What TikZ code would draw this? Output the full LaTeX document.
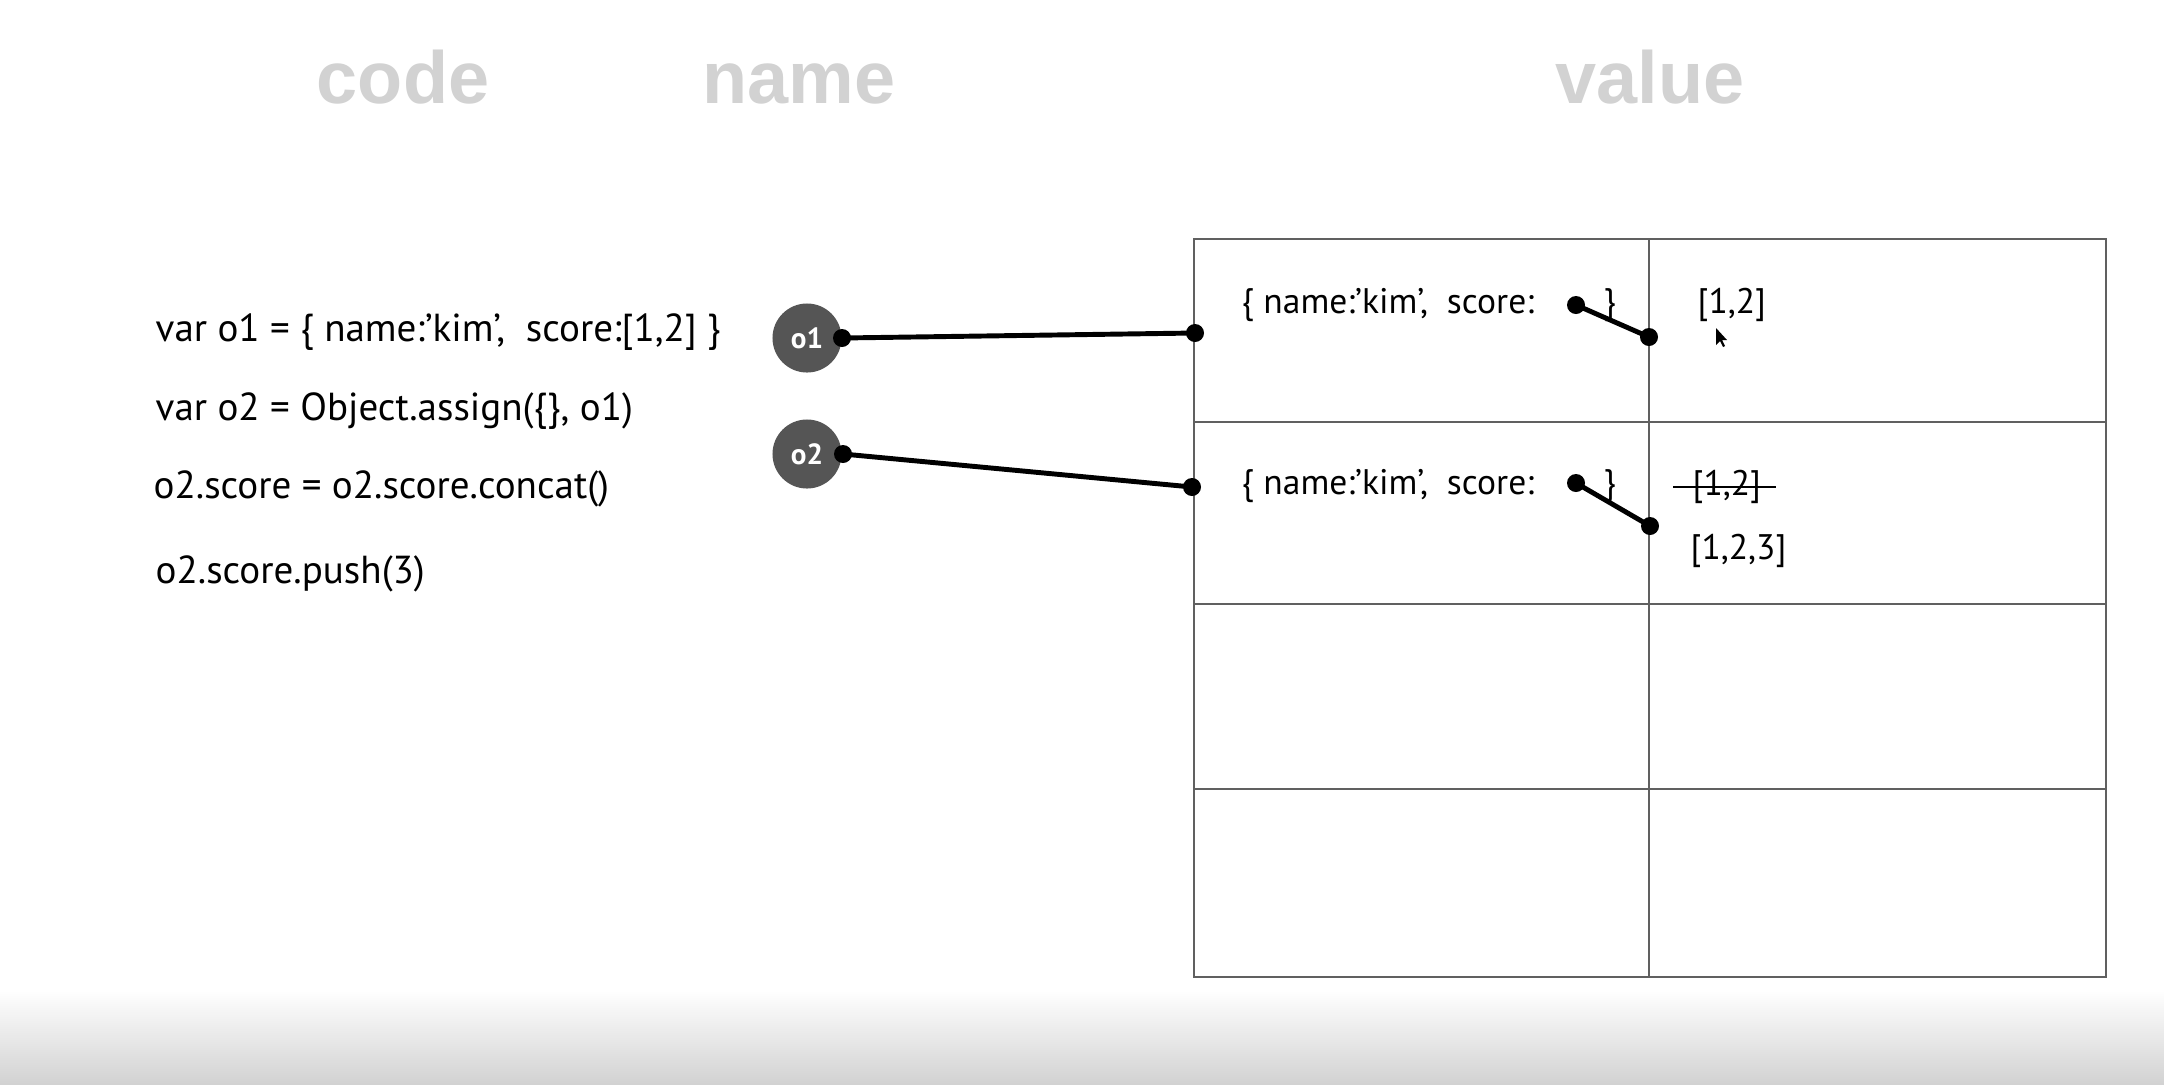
\documentclass[tikz,border=0pt]{standalone}
\usepackage{fontspec}
\setmainfont{PT Sans}
\newfontfamily\titlefont{Liberation Sans}
\definecolor{titlegray}{HTML}{D2D2D2}
\definecolor{circgray}{HTML}{555555}
\definecolor{gridgray}{HTML}{606060}
\begin{document}
\begin{tikzpicture}[x=0.01cm,y=-0.01cm,
  titletxt/.style={anchor=base, font=\titlefont\bfseries\fontsize{21}{25}\selectfont, text=titlegray, inner sep=0},
  codetxt/.style={anchor=west, font=\fontsize{11.1}{13}\selectfont, inner sep=0},
  celltxt/.style={anchor=west, font=\fontsize{10.1}{12}\selectfont, inner sep=0},
  namecirc/.style={circle, fill=circgray, minimum size=0.69cm, inner sep=0, text=white, font=\bfseries\fontsize{8.3}{10}\selectfont},
  link/.style={line width=1.4pt, black},
  dotmark/.style={fill=black},
  grid/.style={gridgray, line width=0.45pt}]
\useasboundingbox (0,0) rectangle (2164,1084);
\fill[white] (0,0) rectangle (2164,1084);
\shade[top color=white, bottom color=titlegray] (0,990) rectangle (2164,1084);

% titles
\node[titletxt] (tcode) at (403,103) {code};
\node[titletxt] (tname) at (799,103) {name};
\node[titletxt] (tvalue) at (1650,103) {value};

% code lines
\node[codetxt] (c1) at (155,332) {var o1 = \{ name:'kim',\ \ score:[1,2] \}};
\node[codetxt] (c2) at (155,411) {var o2 = Object.assign(\{\}, o1)};
\node[codetxt] (c3) at (153,489) {o2.score = o2.score.concat()};
\node[codetxt] (c4) at (155,574) {o2.score.push(3)};

% table
\draw[grid] (1194,239) rectangle (2106,977);
\draw[grid] (1649,239) -- (1649,977);
\foreach \yy in {422,604,789} \draw[grid] (1194,\yy) -- (2106,\yy);

% name circles
\node[namecirc] (o1) at (807,338) {o1};
\node[namecirc] (o2) at (807,454) {o2};

% anchor points
\coordinate (p1a) at (842,338);
\coordinate (p1b) at (1195,333);
\coordinate (p2a) at (843,454);
\coordinate (p2b) at (1192,487);
\coordinate (q1a) at (1576,305);
\coordinate (q1b) at (1649,337);
\coordinate (q2a) at (1576,483);
\coordinate (q2b) at (1650,526);

\draw[link] (p1a) -- (p1b);
\draw[link] (p2a) -- (p2b);
\draw[link] (q1a) -- (q1b);
\draw[link] (q2a) -- (q2b);
\foreach \p in {p1a,p1b,p2a,p2b,q1a,q1b,q2a,q2b} \fill[dotmark] (\p) circle (9);

% cell texts
\node[celltxt] (r1) at (1241,305) {\{ name:'kim',\ \ score:};
\node[celltxt] (b1) at (1603,305) {\}};
\node[celltxt] (v1) at (1697,305) {[1,2]};
\node[celltxt] (r2) at (1241,486) {\{ name:'kim',\ \ score:};
\node[celltxt] (b2) at (1603,486) {\}};
\node[celltxt] (v2) at (1692,487) {[1,2]};
\draw[line width=0.7pt] ([xshift=-0.19cm]v2.west) -- ([xshift=0.14cm]v2.east);
\node[celltxt] (v3) at (1690,551) {[1,2,3]};

% mouse pointer
\coordinate (cur) at (1716,328);
\fill[black] (cur) -- ++(0,17) -- ++(4,-4) -- ++(3,6) -- ++(2,-1) -- ++(-3,-6) -- ++(5,0) -- cycle;
\end{tikzpicture}
\end{document}
